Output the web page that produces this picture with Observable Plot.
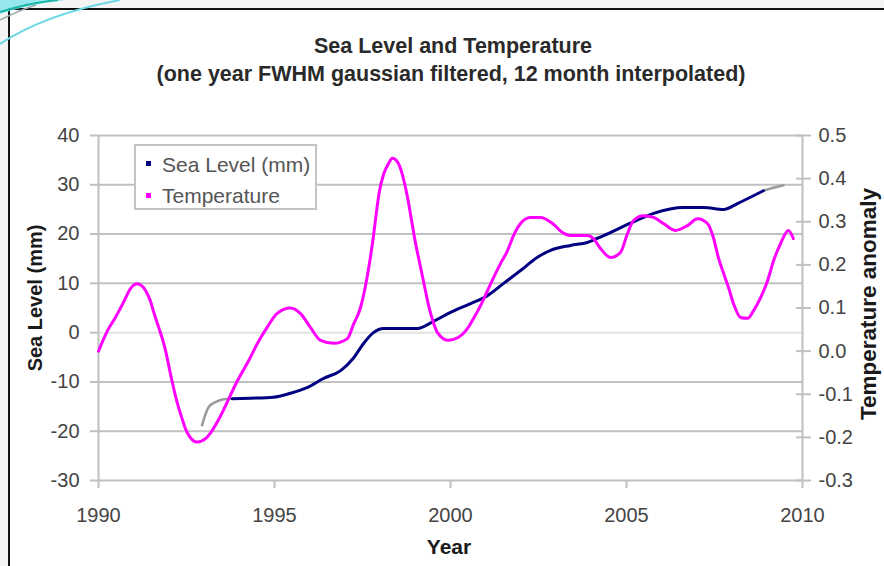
<!DOCTYPE html>
<html>
<head>
<meta charset="utf-8">
<script src="https://cdn.jsdelivr.net/npm/d3@7"></script>
<script src="https://cdn.jsdelivr.net/npm/@observablehq/plot@0.6"></script>
<style>
  html, body { margin: 0; padding: 0; background: #f4f4f4; }
  #wrap { position: relative; width: 884px; height: 566px; overflow: hidden; font-family: "Liberation Sans", Arial, sans-serif; }
  #frame { position: absolute; left: 8px; top: 8px; width: 900px; height: 600px; background: #fff; border-left: 2px solid #111; border-top: 2px solid #111; }
  #chart { position: absolute; left: 0; top: 0; }
  .t { position: absolute; white-space: nowrap; line-height: 1; }
  .title { font-weight: bold; font-size: 21.5px; color: #2a2a2a; transform: translateX(-50%); }
  .axt { font-weight: bold; color: #1a1a1a; }
  .leg { font-size: 21px; color: #555; }
  .mk { position: absolute; width: 5px; height: 5px; }
  #legend { position: absolute; left: 134px; top: 144px; width: 183px; height: 66px; box-sizing: border-box; border: 2px solid #c4c4c4; background: #fff; }
  #deco { position: absolute; left: 0; top: 0; }
</style>
</head>
<body>
<div id="wrap">
  <div id="frame"></div>
  <div id="chart"></div>
  <svg id="deco" width="160" height="50">
    <path d="M0,14 Q30,4 66,0 L0,0 Z" fill="#7fe3ee" opacity="0.8"/>
    <path d="M0,12 Q28,3 58,0" stroke="#19b5a6" stroke-width="2" fill="none"/>
    <path d="M0,44 Q45,14 120,0" stroke="#6fd7e6" stroke-width="2" fill="none"/>
    <path d="M0,20 Q20,10 36,5" stroke="#9aa" stroke-width="1.5" fill="none"/>
  </svg>
  <div class="t title" style="left:453px; top:36px;">Sea Level and Temperature</div>
  <div class="t title" style="left:451px; top:63.5px;">(one year FWHM gaussian filtered, 12 month interpolated)</div>
  <div id="legend"></div>
  <div class="mk" style="left:146px; top:161px; background:#000080;"></div>
  <div class="t leg" style="left:162px; top:153.5px;">Sea Level (mm)</div>
  <div class="mk" style="left:146px; top:193px; background:#ff00ff;"></div>
  <div class="t leg" style="left:162px; top:184.5px;">Temperature</div>
  <div class="t axt" style="left:449px; top:536px; font-size:21px; transform:translateX(-50%);">Year</div>
  <div class="t axt" style="left:35px; top:298px; font-size:20px; transform:translate(-50%,-50%) rotate(-90deg);">Sea Level (mm)</div>
  <div class="t axt" style="left:869px; top:304px; font-size:22.5px; transform:translate(-50%,-50%) rotate(-90deg);">Temperature anomaly</div>
</div>
<script>
// ---- data ----
const xDomain = [1990, 2010];
const yearTicks = [1990, 1995, 2000, 2005, 2010];
const seaDomain = [-30, 40];
const seaTicks = [-30, -20, -10, 0, 10, 20, 30, 40];
const tempDomain = [-0.3, 0.5];
const tempTicks = [-0.3, -0.2, -0.1, 0.0, 0.1, 0.2, 0.3, 0.4, 0.5];

const seaYears = [1993.80, 1994.32, 1994.97, 1995.45, 1995.94, 1996.39, 1996.88, 1997.24, 1997.53, 1997.81,
  1998.10, 1998.52, 1999.06, 1999.52, 2000.00, 2000.57, 2001.05, 2001.51, 2001.99, 2002.47,
  2002.84, 2003.41, 2003.89, 2004.35, 2005.11, 2005.77, 2006.62, 2007.19, 2007.76, 2008.15, 2008.89];
const seaValues = [-13.4, -13.3, -13.1, -12.3, -11.1, -9.3, -7.7, -5.2, -2.2, 0.0,
  0.85, 0.85, 0.85, 2.3, 4.1, 5.9, 7.5, 10.0, 12.6, 15.3,
  16.7, 17.7, 18.3, 19.7, 22.2, 24.2, 25.4, 25.4, 25.0, 26.2, 28.8];

const seaStartYears = [1992.94, 1993.13, 1993.32, 1993.56, 1993.80];
const seaStartValues = [-18.8, -15.1, -14.1, -13.5, -13.4];
const seaEndYears = [2008.89, 2009.17, 2009.46];
const seaEndValues = [28.8, 29.4, 29.9];

const tempYears = [1990.00, 1990.26, 1990.48, 1990.71, 1990.91, 1991.10, 1991.34, 1991.48, 1991.57, 1991.71,
  1991.81, 1991.90, 1992.05, 1992.19, 1992.28, 1992.38, 1992.47, 1992.57, 1992.80, 1993.04,
  1993.18, 1993.37, 1993.56, 1993.75, 1993.94, 1994.13, 1994.28, 1994.51, 1994.79, 1995.07,
  1995.45, 1995.74, 1996.02, 1996.31, 1996.68, 1997.07, 1997.25, 1997.44, 1997.54, 1997.68,
  1997.80, 1997.90, 1997.98, 1998.10, 1998.24, 1998.35, 1998.52, 1998.64, 1998.72, 1998.81,
  1998.90, 1998.98, 1999.06, 1999.15, 1999.23, 1999.38, 1999.49, 1999.63, 1999.94, 2000.23,
  2000.48, 2000.65, 2000.85, 2001.05, 2001.22, 2001.42, 2001.62, 2001.79, 2001.99, 2002.27,
  2002.56, 2002.90, 2003.18, 2003.41, 2003.89, 2004.06, 2004.26, 2004.55, 2004.83, 2005.03,
  2005.20, 2005.48, 2005.77, 2006.05, 2006.39, 2006.73, 2007.02, 2007.30, 2007.47, 2007.61,
  2007.76, 2007.90, 2008.04, 2008.24, 2008.44, 2008.61, 2008.81, 2009.01, 2009.18, 2009.38,
  2009.60, 2009.74];
const tempValues = [0.000, 0.048, 0.078, 0.113, 0.145, 0.156, 0.140, 0.115, 0.090, 0.055,
  0.030, 0.003, -0.055, -0.105, -0.132, -0.158, -0.180, -0.196, -0.211, -0.203,
  -0.190, -0.165, -0.135, -0.102, -0.070, -0.042, -0.020, 0.017, 0.055, 0.087,
  0.100, 0.087, 0.055, 0.025, 0.018, 0.029, 0.063, 0.100, 0.133, 0.195,
  0.260, 0.325, 0.370, 0.410, 0.435, 0.447, 0.435, 0.407, 0.380, 0.343,
  0.300, 0.262, 0.229, 0.194, 0.163, 0.105, 0.072, 0.043, 0.025, 0.032,
  0.052, 0.075, 0.105, 0.140, 0.170, 0.203, 0.233, 0.268, 0.296, 0.310,
  0.310, 0.296, 0.275, 0.268, 0.268, 0.261, 0.238, 0.217, 0.229, 0.273,
  0.303, 0.314, 0.310, 0.296, 0.280, 0.291, 0.307, 0.296, 0.263, 0.217,
  0.180, 0.147, 0.110, 0.078, 0.076, 0.094, 0.124, 0.164, 0.210, 0.250,
  0.280, 0.261];

// ---- build tables ----
const toSea = t => seaDomain[0] + (t - tempDomain[0]) / (tempDomain[1] - tempDomain[0]) * (seaDomain[1] - seaDomain[0]);
const fromSea = s => tempDomain[0] + (s - seaDomain[0]) / (seaDomain[1] - seaDomain[0]) * (tempDomain[1] - tempDomain[0]);
const zip = (xs, ys) => xs.map((x, i) => ({year: x, value: ys[i]}));
const sea = zip(seaYears, seaValues);
const seaStart = zip(seaStartYears, seaStartValues);
const seaEnd = zip(seaEndYears, seaEndValues);
const temp = zip(tempYears, tempValues);

const grid = "#c0c0c0";
const chart = Plot.plot({
  width: 884,
  height: 566,
  marginLeft: 98,
  marginRight: 82,
  marginTop: 135,
  marginBottom: 86,
  style: {background: "none", fontFamily: "'Liberation Sans', Arial, sans-serif", fontSize: "20px"},
  x: {domain: xDomain},
  y: {domain: seaDomain},
  marks: [
    Plot.ruleY(seaTicks.filter(d => d !== 0), {stroke: grid, strokeWidth: 2}),
    Plot.ruleY(seaTicks.filter(d => d === 0), {stroke: "#e2e2e2", strokeWidth: 2}),
    Plot.ruleX(xDomain, {stroke: grid, strokeWidth: 2}),
    Plot.axisY({anchor: "left", ticks: seaTicks, tickFormat: d => String(d), tickSize: 8, tickPadding: 11,
      stroke: grid, strokeWidth: 2, fill: "#444", label: null}),
    Plot.axisY({anchor: "right", ticks: tempTicks.map(toSea),
      tickFormat: s => (Math.round(fromSea(s) * 10) / 10).toFixed(1),
      tickSize: 15, insetRight: 7, tickPadding: 8, textAnchor: "start",
      stroke: grid, strokeWidth: 2, fill: "#444", label: null}),
    Plot.axisX({anchor: "bottom", ticks: yearTicks, tickFormat: d => String(d), tickSize: 8, tickPadding: 19,
      stroke: grid, strokeWidth: 2, fill: "#444", label: null}),
    Plot.line(seaStart, {x: "year", y: "value", stroke: "#9a9a9a", strokeWidth: 2.5, curve: "monotone-x"}),
    Plot.line(seaEnd, {x: "year", y: "value", stroke: "#9a9a9a", strokeWidth: 2.5, curve: "monotone-x"}),
    Plot.line(sea, {x: "year", y: "value", stroke: "#000080", strokeWidth: 3, curve: "monotone-x"}),
    Plot.line(temp, {x: "year", y: d => toSea(d.value), stroke: "#ff00ff", strokeWidth: 3, curve: "monotone-x"})
  ]
});
document.getElementById("chart").appendChild(chart);
</script>
</body>
</html>
